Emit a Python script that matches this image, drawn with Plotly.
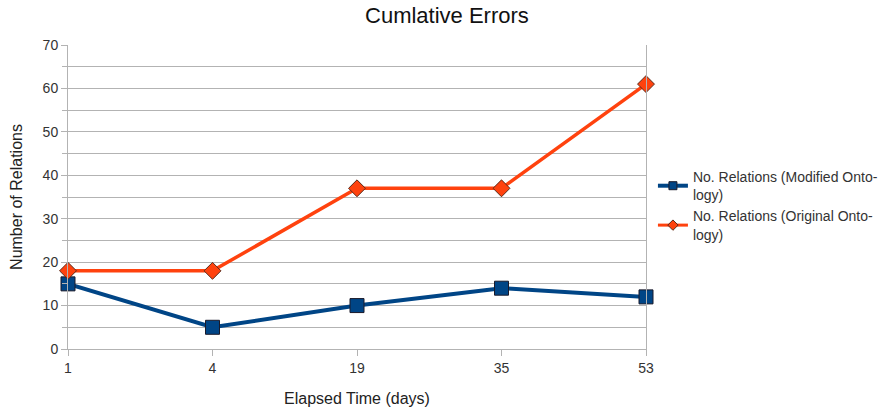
import plotly.graph_objects as go

# Elapsed time (days) at each measurement
days = ["1", "4", "19", "35", "53"]
# Cumulative number of relations with errors
modified = [15, 5, 10, 14, 12]
original = [18, 18, 37, 37, 61]

BLUE = "#004586"
ORANGE = "#ff420e"
names = ["No. Relations (Modified Onto-<br>logy)",
         "No. Relations (Original Onto-<br>logy)"]

fig = go.Figure()
fig.add_trace(go.Scatter(
    x=days, y=modified, mode="lines+markers", showlegend=False,
    line=dict(color=BLUE, width=4), cliponaxis=False,
    marker=dict(symbol="square", size=14, color=BLUE,
                line=dict(color="#1a1a2a", width=1)),
))
fig.add_trace(go.Scatter(
    x=days, y=original, mode="lines+markers", showlegend=False,
    line=dict(color=ORANGE, width=3.5), cliponaxis=False,
    marker=dict(symbol="diamond", size=13, color=ORANGE,
                line=dict(color="#5a2a1a", width=1)),
))
# legend entries with compact symbols
fig.add_trace(go.Scatter(
    x=[None], y=[None], mode="lines+markers", name=names[0],
    line=dict(color=BLUE, width=4),
    marker=dict(symbol="square", size=8, color=BLUE,
                line=dict(color="#1a1a2a", width=1)),
))
fig.add_trace(go.Scatter(
    x=[None], y=[None], mode="lines+markers", name=names[1],
    line=dict(color=ORANGE, width=3),
    marker=dict(symbol="diamond", size=8, color=ORANGE,
                line=dict(color="#5a2a1a", width=1)),
))

fig.update_layout(
    width=885, height=411,
    margin=dict(l=68, r=239, t=45, b=62, autoexpand=False),
    paper_bgcolor="white", plot_bgcolor="white",
    font=dict(family="Liberation Sans, Arial, sans-serif", size=14, color="#333"),
    title=dict(text="Cumlative Errors", x=0.505, xanchor="center",
               y=0.962, yanchor="middle",
               font=dict(size=22, color="#111")),
    legend=dict(x=1.012, y=0.472, xanchor="left", yanchor="middle",
                font=dict(size=14, color="#333"),
                tracegroupgap=4, itemwidth=30),
    showlegend=True,
)
fig.update_xaxes(
    type="category", range=[0, 4],
    showgrid=False, showline=True, linecolor="#b3b3b3", linewidth=1,
    ticks="outside", ticklen=6, tickcolor="#b3b3b3",
    tickfont=dict(size=14, color="#333"),
    zeroline=False,
    title=dict(text="Elapsed Time (days)", font=dict(size=16, color="#222"), standoff=18),
)
fig.update_yaxes(
    range=[0, 70], dtick=10,
    showgrid=True, gridcolor="#b3b3b3", gridwidth=1,
    minor=dict(dtick=5, showgrid=True, gridcolor="#b3b3b3", ticks="outside",
               ticklen=5, tickcolor="#b3b3b3"),
    showline=True, linecolor="#b3b3b3", linewidth=1, mirror=True,
    ticks="outside", ticklen=6, tickcolor="#b3b3b3",
    tickfont=dict(size=14, color="#333"),
    zeroline=False,
    title=dict(text="Number of Relations", font=dict(size=16, color="#222"), standoff=16),
)

fig.write_html("out.html")
